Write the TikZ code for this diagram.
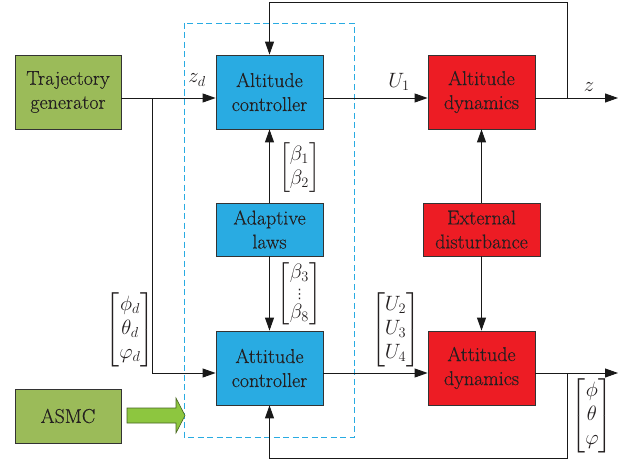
\documentclass[tikz,border=0pt]{standalone}
\usepackage{amsmath}
\usepackage{fontspec}
\newfontfamily\boxfont{Latin Modern Roman}[FakeBold=0.35]
\newfontfamily\dvfont{DejaVu Sans}
\usetikzlibrary{arrows.meta}
\definecolor{gbox}{HTML}{9BBB59}
\definecolor{bbox}{HTML}{29ABE2}
\definecolor{rbox}{HTML}{ED1C24}
\definecolor{txt}{HTML}{231F20}
\definecolor{garrow}{HTML}{8DC63F}
\begin{document}
\begin{tikzpicture}[x=1pt,y=-1pt,
 box/.style={draw=black!80, line width=0.8pt, text=txt, align=center, inner sep=0pt, font=\boxfont\fontsize{20}{24}\selectfont},
 arr/.style={-{Triangle[length=13pt,width=9pt]}, line width=0.9pt, draw=black!90},
 lbl/.style={text=txt, inner sep=0pt, font=\fontsize{20}{24}\selectfont}]
\useasboundingbox (0,0) rectangle (632,460);
\draw[bbox, dash pattern=on 6pt off 3.5pt, line width=0.9pt] (184,23) rectangle (354,437);
\node[box, fill=gbox, minimum width=106pt, minimum height=74pt] (trj) at (68,92) {Trajectory\\generator};
\node[box, fill=bbox, minimum width=107pt, minimum height=74pt] (alt) at (269.5,92) {Altitude\\controller};
\node[box, fill=rbox, minimum width=107pt, minimum height=74pt] (ald) at (481.5,92) {Altitude\\dynamics};
\node[box, fill=bbox, minimum width=107pt, minimum height=53pt] (adp) at (269.5,229.5) {Adaptive\\laws};
\node[box, fill=rbox, minimum width=117pt, minimum height=53pt] (ext) at (481.5,229.5) {External\\disturbance};
\node[box, fill=bbox, minimum width=107pt, minimum height=74pt] (att) at (269.5,368) {Attitude\\controller};
\node[box, fill=rbox, minimum width=107pt, minimum height=74pt] (atd) at (481.5,368) {Attitude\\dynamics};
\node[box, fill=gbox, minimum width=106pt, minimum height=54pt] (asmc) at (68,416) {ASMC};
\coordinate (br) at (152,98);
\coordinate (zout) at (618,98);
\coordinate (fz) at (567,98);
\coordinate (ftop) at (567,2);
\coordinate (aout) at (618,373);
\coordinate (fb) at (567,373);
\coordinate (fbot) at (567,458);
\draw[arr] ([yshift=-6pt]trj.east) -- ([yshift=-6pt]alt.west);
\draw[arr] (br) |- ([yshift=-5pt]att.west);
\draw[arr] ([yshift=-6pt]alt.east) -- ([yshift=-6pt]ald.west);
\draw[arr] ([yshift=-6pt]ald.east) -- (zout);
\draw[arr] (fz) -- (ftop) -| (alt.north);
\draw[arr] (adp.north) -- (alt.south);
\draw[arr] (adp.south) -- (att.north);
\draw[arr] (ext.north) -- (ald.south);
\draw[arr] (ext.south) -- (atd.north);
\draw[arr] ([yshift=-5pt]att.east) -- ([yshift=-5pt]atd.west);
\draw[arr] ([yshift=-5pt]atd.east) -- (aout);
\draw[arr] (fb) -- (fbot) -| (att.south);
\filldraw[fill=garrow, draw=black!50!garrow, line width=0.6pt] (127,408) -- (176,408) -- (176,398) -- (185,415.5) -- (176,433) -- (176,423) -- (127,423) -- cycle;
\node[lbl] (lzd) at (197,80) {$z_d$};
\node[lbl] (lu1) at (399,82) {$U_1$};
\node[lbl] (lz) at (589,87) {$z$};
\node[lbl] (lb12) at (299.5,168) {$\begin{bmatrix}\beta_1\\\beta_2\end{bmatrix}$};
\node[lbl] (lb38) at (299.5,293.5) {$\begin{bmatrix}\beta_3\\[-4pt]\text{\dvfont\fontsize{13}{13}\selectfont ⋮}\\[-4pt]\beta_8\end{bmatrix}$};
\node[lbl] (lang) at (130,330) {$\begin{bmatrix}\phi_d\\\theta_d\\\varphi_d\end{bmatrix}$};
\node[lbl] (lu) at (395.5,330) {$\begin{bmatrix}U_2\\U_3\\U_4\end{bmatrix}$};
\node[lbl] (lout) at (592,416) {$\begin{bmatrix}\phi\\\theta\\\varphi\end{bmatrix}$};
\end{tikzpicture}
\end{document}
